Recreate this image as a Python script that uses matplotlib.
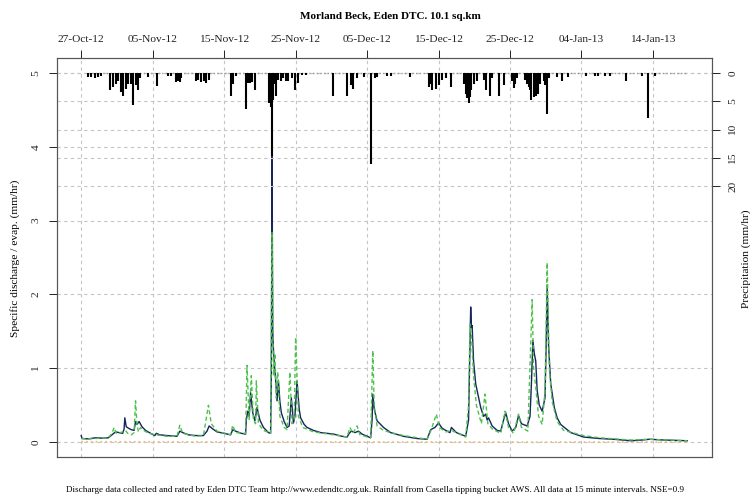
import matplotlib
matplotlib.use("Agg")
import matplotlib.pyplot as plt
import numpy as np

plt.rcParams['font.family'] = ['Liberation Serif', 'DejaVu Serif']

# days since 27-Oct-12 (tick spacing on the original is 10 days)
tick_labels = ["27-Oct-12", "05-Nov-12", "15-Nov-12", "25-Nov-12", "05-Dec-12",
               "15-Dec-12", "25-Dec-12", "04-Jan-13", "14-Jan-13"]

# observed specific discharge (mm/hr)
obs_day = [0.0, 0.1, 1.0, 2.0, 3.0, 3.8, 4.3, 4.8, 5.3, 5.8, 6.0, 6.1, 6.3, 6.6, 7.0, 7.4, 7.6, 7.8,
           8.1, 8.5, 9.0, 9.9, 10.3, 10.5, 11.0, 12.0, 13.4, 13.8, 14.2, 15.0, 16.0, 17.1, 17.6,
           17.9, 18.4, 19.0, 20.0, 20.9, 21.2, 21.6, 22.4, 23.0, 23.1, 23.3, 23.5, 23.7, 24.0,
           24.3, 24.6, 25.0, 25.5, 26.2, 26.5, 26.6, 26.7, 26.8, 26.9, 27.0, 27.2, 27.4, 27.6,
           27.8, 28.0, 28.4, 28.8, 29.1, 29.4, 29.7, 29.9, 30.2, 30.5, 30.7, 31.2, 31.6, 32.5,
           33.5, 35.3, 36.5, 37.2, 37.5, 37.8, 38.3, 38.8, 39.3, 40.0, 40.5, 40.7, 40.8, 41.0,
           41.4, 42.3, 43.3, 45.1, 47.0, 48.4, 48.9, 49.5, 50.0, 50.5, 51.0, 51.6, 51.8, 52.5,
           53.8, 54.2, 54.4, 54.5, 54.6, 54.7, 54.9, 55.2, 55.9, 56.3, 56.6, 56.8, 57.0, 57.5,
           58.2, 58.7, 59.1, 59.4, 59.8, 60.3, 60.8, 61.2, 61.6, 62.4, 62.8, 63.0, 63.2, 63.4,
           63.6, 63.8, 64.1, 64.5, 64.9, 65.1, 65.2, 65.4, 65.7, 66.2, 66.6, 67.1, 68.5, 70.3,
           72.5, 74.5, 76.9, 78.5, 79.5, 81.5, 84.8]
obs_q = [0.09, 0.05, 0.045, 0.06, 0.055, 0.06, 0.10, 0.14, 0.13, 0.12, 0.18, 0.33, 0.21, 0.19, 0.17,
         0.16, 0.28, 0.24, 0.28, 0.21, 0.16, 0.11, 0.09, 0.12, 0.10, 0.09, 0.08, 0.15, 0.13, 0.10,
         0.09, 0.09, 0.15, 0.22, 0.18, 0.14, 0.12, 0.10, 0.17, 0.15, 0.12, 0.11, 0.30, 0.42, 0.35,
         0.67, 0.40, 0.29, 0.47, 0.30, 0.20, 0.13, 0.12, 0.90, 3.90, 1.50, 1.25, 1.10, 0.85, 0.56,
         0.83, 0.55, 0.40, 0.28, 0.20, 0.22, 0.60, 0.26, 0.35, 0.83, 0.45, 0.33, 0.24, 0.20, 0.16,
         0.13, 0.11, 0.08, 0.07, 0.12, 0.15, 0.13, 0.15, 0.11, 0.08, 0.06, 0.30, 0.65, 0.45, 0.29,
         0.20, 0.13, 0.08, 0.05, 0.04, 0.17, 0.20, 0.26, 0.19, 0.16, 0.13, 0.20, 0.13, 0.08, 0.30,
         1.30, 1.83, 1.55, 1.58, 1.10, 0.79, 0.47, 0.35, 0.38, 0.30, 0.33, 0.22, 0.16, 0.15, 0.30,
         0.40, 0.25, 0.15, 0.20, 0.36, 0.25, 0.22, 0.35, 0.80, 1.38, 1.20, 1.10, 0.70, 0.50, 0.42,
         0.60, 1.50, 2.13, 1.30, 0.79, 0.47, 0.33, 0.24, 0.13, 0.07, 0.05, 0.04, 0.02, 0.03, 0.04,
         0.03, 0.02]

# modelled discharge (mm/hr)
mod_day = [0.0, 1.0, 3.8, 4.3, 4.6, 4.9, 5.5, 6.0, 6.2, 6.5, 7.0, 7.4, 7.6, 7.8, 8.0, 8.3, 8.7, 9.5,
           10.5, 12.0, 13.4, 13.8, 14.2, 16.0, 17.1, 17.8, 18.2, 19.0, 20.9, 21.2, 21.6, 23.0, 23.2,
           23.5, 23.8, 24.1, 24.4, 24.5, 24.8, 25.5, 26.5, 26.7, 26.8, 26.9, 27.1, 27.3, 27.5, 27.8,
           28.4, 28.8, 29.2, 29.5, 29.8, 30.0, 30.4, 31.0, 32.5, 35.3, 37.2, 37.6, 38.0, 38.6, 39.0,
           40.5, 40.8, 41.0, 41.4, 42.3, 43.3, 45.1, 48.4, 48.9, 49.7, 50.1, 51.0, 51.8, 53.8, 54.2,
           54.4, 54.6, 54.9, 55.3, 56.0, 56.5, 56.9, 57.5, 58.7, 59.3, 59.8, 60.5, 61.2, 61.6, 62.5,
           63.1, 63.3, 63.6, 64.0, 64.5, 64.9, 65.2, 65.5, 65.9, 66.6, 67.5, 70.3, 72.5, 76.9, 79.5,
           84.8]
mod_q = [0.05, 0.045, 0.06, 0.12, 0.20, 0.12, 0.13, 0.15, 0.16, 0.12, 0.10, 0.13, 0.56, 0.25, 0.14,
         0.20, 0.16, 0.12, 0.10, 0.08, 0.08, 0.23, 0.12, 0.08, 0.09, 0.50, 0.25, 0.15, 0.10, 0.23,
         0.13, 0.12, 1.04, 0.30, 0.90, 0.30, 0.25, 0.83, 0.25, 0.16, 0.12, 2.84, 1.70, 0.90, 1.20,
         0.60, 0.95, 0.35, 0.20, 0.17, 0.95, 0.25, 0.30, 1.42, 0.35, 0.20, 0.14, 0.10, 0.07, 0.20,
         0.12, 0.22, 0.10, 0.06, 1.24, 0.50, 0.22, 0.16, 0.13, 0.09, 0.04, 0.15, 0.38, 0.20, 0.14,
         0.16, 0.07, 0.50, 1.60, 1.45, 0.90, 0.50, 0.25, 0.65, 0.25, 0.18, 0.12, 0.42, 0.20, 0.12,
         0.38, 0.20, 0.15, 1.93, 1.00, 0.75, 0.35, 0.24, 0.70, 2.43, 1.00, 0.55, 0.28, 0.16, 0.09,
         0.06, 0.03, 0.04, 0.02]

# evaporation (mm/hr)
evap_day = [0.0, 20.0, 40.0, 60.0, 84.8]
evap_q = [0.006, 0.004, 0.002, 0.001, 0.002]

# precipitation (mm/hr)
rain_day = [1.0, 1.4, 1.9, 2.4, 2.75, 4.0, 4.5, 4.9, 5.2, 5.5, 5.8, 6.3, 6.6, 6.9, 7.3, 7.7, 7.9,
            8.2, 9.3, 10.6, 12.1, 12.5, 13.2, 13.5, 13.8, 14.0, 16.0, 16.4, 16.8, 17.2, 17.5, 17.9,
            20.9, 21.3, 21.7, 23.0, 23.3, 23.6, 23.9, 24.3, 26.3, 26.5, 26.7, 26.9, 27.0, 27.2,
            27.5, 27.9, 28.2, 28.6, 29.0, 29.5, 29.97, 30.4, 30.9, 31.4, 35.3, 37.2, 37.7, 38.1,
            38.6, 39.5, 40.6, 41.1, 41.4, 42.8, 43.3, 46.0, 48.6, 48.9, 49.1, 49.6, 50.0, 50.5,
            51.0, 51.7, 53.6, 53.8, 54.0, 54.2, 54.4, 54.6, 55.0, 55.4, 56.3, 56.6, 57.2, 57.5,
            58.5, 59.1, 60.3, 60.5, 60.7, 61.0, 62.1, 62.4, 62.7, 62.8, 63.0, 63.3, 63.5, 63.6,
            63.9, 64.2, 64.7, 64.9, 65.2, 65.4, 66.6, 67.3, 68.1, 70.6, 71.9, 72.3, 73.3, 74.0,
            76.3, 78.5, 79.3, 80.3]
rain_mm = [0.8, 0.8, 0.9, 0.7, 0.6, 3.1, 2.5, 1.9, 1.5, 3.4, 4.0, 2.8, 1.9, 1.9, 5.7, 2.2, 3.1,
           0.9, 0.8, 2.4, 0.5, 0.5, 1.6, 1.4, 1.6, 1.0, 1.5, 1.2, 1.6, 1.4, 1.8, 1.2,
           4.0, 1.9, 0.6, 6.3, 1.8, 1.8, 1.6, 3.1, 5.4, 6.0, 14.7, 4.8, 2.0, 4.0,
           1.2, 1.5, 1.0, 1.4, 1.5, 1.0, 3.1, 1.8, 0.4, 0.4, 4.0, 4.0, 2.2, 2.8,
           1.0, 0.8, 16.0, 1.0, 0.8, 0.5, 0.5, 0.7, 2.5, 2.0, 3.1, 2.8, 2.2, 1.2,
           1.0, 2.5, 2.0, 3.7, 4.5, 5.4, 4.3, 3.1, 2.0, 1.5, 1.2, 3.1, 4.0, 1.0,
           4.0, 2.2, 1.5, 2.6, 2.0, 1.0, 1.2, 1.9, 2.5, 3.1, 4.8, 4.3, 3.5, 4.0,
           3.7, 1.9, 1.4, 2.2, 7.2, 1.0, 0.7, 1.4, 0.8, 0.5, 0.5, 0.5, 0.5, 0.5,
           1.5, 0.6, 7.9, 0.5]

title = "Morland Beck, Eden DTC. 10.1 sq.km"
caption = ("Discharge data collected and rated by Eden DTC Team http://www.edendtc.org.uk. "
           "Rainfall from Casella tipping bucket AWS. All data at 15 minute intervals. NSE=0.9")

grid_col = "#c4c4c4"
dash = (0, (3, 3))
fs = 8.2

fig = plt.figure(figsize=(7.5, 4.97), dpi=100)
ax = fig.add_axes([0.076, 0.0805, 0.8727, 0.8028])

tick_pos = np.arange(len(tick_labels)) * 10
ax.set_xlim(-3.39, 88.2)
ax.set_ylim(-0.2, 5.2)
ax.set_xticks(tick_pos)
ax.set_xticklabels(tick_labels, fontsize=fs)
ax.xaxis.tick_top()
ax.set_yticks(range(6))
ax.set_yticklabels([str(i) for i in range(6)], fontsize=fs, rotation=90, va="center")
ax.tick_params(axis="x", length=6, width=0.7, pad=4, colors="#222222")
ax.tick_params(axis="y", length=6, width=0.7, pad=6, colors="#222222")
ax.grid(True, color=grid_col, linestyle=dash, linewidth=0.8)
ax.set_axisbelow(True)
for s in ax.spines.values():
    s.set_color("#555555")
    s.set_linewidth(0.8)

ax.plot(evap_day, evap_q, color="#e6bf8a", linestyle=":", linewidth=1.3)
ax.plot(obs_day, obs_q, color="#16255c", linewidth=1.0)
ax.plot(mod_day, mod_q, color="#4cc24c", linestyle=(0, (3, 2)), linewidth=1.0)

ax2 = ax.twinx()
ax2.set_ylim(67.6, -2.6)
ax2.set_yticks([0, 5, 10, 15, 20])
ax2.set_yticklabels(["0", "5", "10", "15", "20"], fontsize=fs, rotation=90, va="center")
ax2.tick_params(axis="y", length=6, width=0.7, pad=6, colors="#222222")
ax2.grid(True, axis="y", color=grid_col, linestyle=dash, linewidth=0.8)
for s in ax2.spines.values():
    s.set_color("#555555")
    s.set_linewidth(0.8)
ax2.plot([rain_day[0], obs_day[-1]], [0, 0], color="#999999", linestyle=":", linewidth=1.0)
ax2.vlines(rain_day, 0, rain_mm, color="black", linewidth=1.5)

fig.text(0.52, 0.966, title, ha="center", va="center", fontsize=8.0, fontweight="bold")
fig.text(0.02, 0.48, "Specific discharge / evap. (mm/hr)", rotation=90,
         ha="center", va="center", fontsize=fs)
fig.text(0.995, 0.48, "Precipitation (mm/hr)", rotation=90,
         ha="center", va="center", fontsize=fs)
fig.text(0.5, 0.014, caption, ha="center", va="center", fontsize=6.6)

fig.savefig("out.png", dpi=100)
